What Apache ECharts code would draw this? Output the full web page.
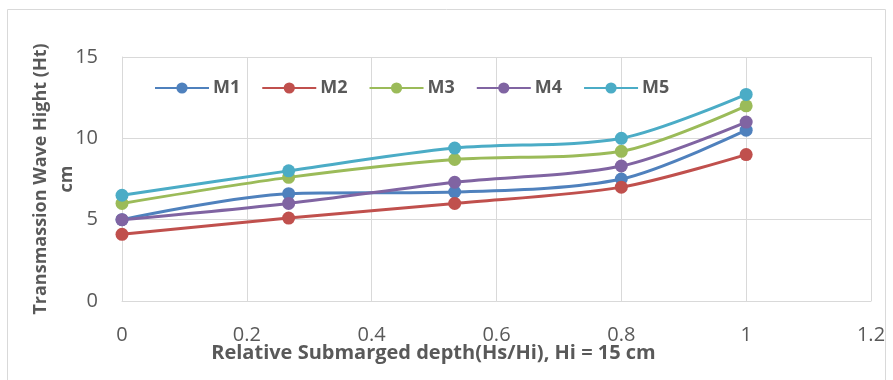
<!DOCTYPE html>
<html><head><meta charset="utf-8">
<script src="https://cdn.jsdelivr.net/npm/echarts@6/dist/echarts.min.js"></script>
<style>html,body{margin:0;padding:0;background:#fff}#c{width:893px;height:380px}</style>
</head><body><div id="c"></div>
<script>
const xValues = [0, 0.267, 0.533, 0.8, 1];
const seriesNames = ['M1', 'M2', 'M3', 'M4', 'M5'];
const M1 = [5.0, 6.6, 6.7, 7.5, 10.5];
const M2 = [4.1, 5.1, 6.0, 7.0, 9.0];
const M3 = [6.0, 7.6, 8.7, 9.2, 12.0];
const M4 = [5.0, 6.0, 7.3, 8.3, 11.0];
const M5 = [6.5, 8.0, 9.4, 10.0, 12.7];
const colors = ['#4F81BD', '#C0504D', '#9BBB59', '#8064A2', '#4BACC6'];
const allData = [M1, M2, M3, M4, M5];
const FONT = '"Open Sans", Lato, sans-serif';

const chart = echarts.init(document.getElementById('c'));
chart.setOption({
  animation: false,
  color: colors,
  graphic: [{type:'rect', shape:{x:7.5, y:9.5, width:878, height:380}, style:{fill:'none', stroke:'#d9d9d9', lineWidth:1}, silent:true}],
  grid: {left: 122, top: 57, right: 22, bottom: 79, containLabel: false},
  legend: {
    top: 74, left: 149, itemGap: 21, itemWidth: 54, itemHeight: 14,
    textStyle: {fontFamily: FONT, fontSize: 18, fontWeight: 'bold', color: '#595959', padding: [0,0,0,-1]},
    data: seriesNames
  },
  xAxis: {
    type: 'value', min: 0, max: 1.2, interval: 0.2,
    axisLine: {show: true, lineStyle: {color: '#d9d9d9'}},
    axisTick: {show: false},
    splitLine: {show: true, lineStyle: {color: '#d9d9d9', width: 1}},
    axisLabel: {fontFamily: FONT, fontSize: 20, color: '#595959', margin: 24,
      formatter: v => String(Math.round(v*10)/10)},
    name: 'Relative Submarged depth(Hs/Hi), Hi = 15 cm',
    nameLocation: 'middle', nameGap: 42, nameMoveOverlap: false,
    nameTextStyle: {fontFamily: FONT, fontSize: 20, fontWeight: 'bold', color: '#595959', padding: [0, 126, 0, 0]}
  },
  yAxis: {
    type: 'value', min: 0, max: 15, interval: 5,
    axisLine: {show: true, lineStyle: {color: '#d9d9d9'}},
    axisTick: {show: false},
    splitLine: {show: true, lineStyle: {color: '#d9d9d9', width: 1}},
    axisLabel: {fontFamily: FONT, fontSize: 20, color: '#595959', margin: 24},
    name: 'Transmassion Wave Hight (Ht)\ncm',
    nameLocation: 'middle', nameGap: 42, nameMoveOverlap: false,
    nameTextStyle: {fontFamily: FONT, fontSize: 18, fontWeight: 'bold', color: '#595959', lineHeight: 26}
  },
  series: seriesNames.map((n, i) => ({
    name: n, type: 'line', smooth: 0.3,
    data: xValues.map((x, j) => [x, allData[i][j]]),
    symbol: 'circle', symbolSize: 13,
    lineStyle: {width: 3, color: colors[i]},
    itemStyle: {color: colors[i]}
  }))
});
</script></body></html>
